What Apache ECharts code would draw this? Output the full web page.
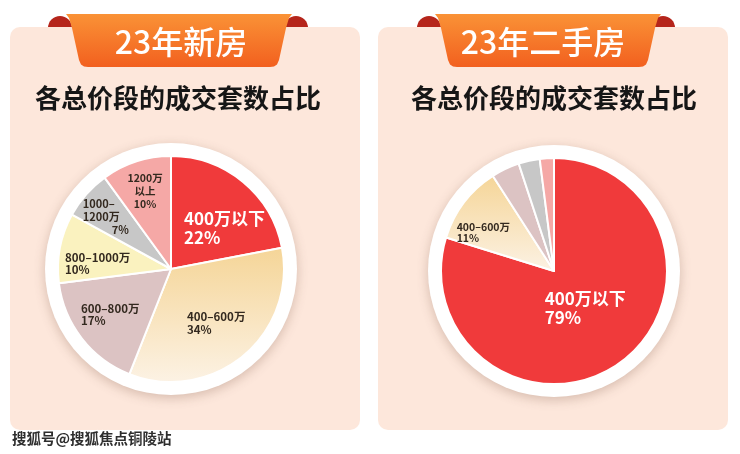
<!DOCTYPE html>
<html><head><meta charset="utf-8">
<script src="https://cdn.jsdelivr.net/npm/echarts@6/dist/echarts.min.js"></script>
<style>html,body{margin:0;padding:0;background:#fff}#c{width:740px;height:454px}</style>
</head><body><div id="c"></div>
<script>
// ---- data ----
const categories = ['400万以下', '400–600万', '600–800万', '800–1000万', '1000–1200万', '1200万以上'];
const newHomeValues = [22, 34, 17, 10, 7, 10];
const resaleValues = [79, 11, 4, 0, 3, 2];
const panelTitles = ['23年新房', '23年二手房'];
const panelSubtitle = '各总价段的成交套数占比';
const watermarkText = '搜狐号@搜狐焦点铜陵站';

// ---- styles ----
const FONT = '"Noto Sans CJK SC", "Noto Sans", sans-serif';
const sliceColors = [
  '#F03A3B',
  new echarts.graphic.LinearGradient(0, 0, 0, 1, [{offset: 0, color: '#F5D597'}, {offset: 1, color: '#FCF2E4'}]),
  '#DCC3C3',
  '#FAF2BF',
  '#C7C7C7',
  '#F5A8A6'
];
const labelBreaks = {'1000–1200万': '1000–\n1200万', '1200万以上': '1200万\n以上'};
const smallColor = '#33291f';

const newHomeLabels = {
  '400万以下': {dx: -25, dy: 4.5, align: 'left', fontSize: 17, color: '#fff', lineHeight: 19},
  '400–600万': {dx: -22, dy: 8, align: 'left', fontSize: 11.5, lineHeight: 13},
  '600–800万': {dx: -43, dy: 9.5, align: 'left', fontSize: 11.5, lineHeight: 12},
  '800–1000万': {dx: -47.5, dy: 5.6, align: 'left', fontSize: 11.5, lineHeight: 12},
  '1000–1200万': {dx: -43.6, dy: -12.6, align: 'left', fontSize: 11, lineHeight: 13, rich: true},
  '1200万以上': {dx: -7.5, dy: -21, align: 'center', fontSize: 10.5, lineHeight: 13}
};
const resaleLabels = {
  '400万以下': {dx: -44.5, dy: -10.5, align: 'left', fontSize: 17, color: '#fff', lineHeight: 19},
  '400–600万': {dx: -50, dy: -2.3, align: 'left', fontSize: 10.5, lineHeight: 11}
};

const panels = [
  {center: [171, 269], values: newHomeValues, labels: newHomeLabels},
  {center: [554, 271], values: resaleValues, labels: resaleLabels}
];

function buildPie(panel) {
  const names = [];
  const data = [];
  categories.forEach(function (name, i) {
    const v = panel.values[i];
    if (!(v > 0)) return;
    const spec = panel.labels[name];
    const item = {name: name, value: v, itemStyle: {color: sliceColors[i]}};
    if (spec) {
      const txt = labelBreaks[name] || name;
      item.label = {
        show: true,
        position: 'inside',
        fontFamily: FONT,
        fontSize: spec.fontSize,
        fontWeight: 'bold',
        color: spec.color || smallColor,
        lineHeight: spec.lineHeight,
        align: spec.align,
        formatter: spec.rich
          ? txt.split('\n').map(function (s) { return '{a|' + s + '}'; }).join('\n') + '\n{b|' + v + '%}'
          : txt + '\n' + v + '%'
      };
      if (spec.rich) {
        item.label.rich = {
          a: {fontFamily: FONT, fontSize: spec.fontSize, fontWeight: 'bold', color: smallColor, lineHeight: spec.lineHeight},
          b: {fontFamily: FONT, fontSize: spec.fontSize, fontWeight: 'bold', color: smallColor, lineHeight: spec.lineHeight, padding: [0, 0, 0, 29]}
        };
      }
    } else {
      item.label = {show: false};
    }
    names.push(name);
    data.push(item);
  });
  return [
    {
      type: 'pie', center: panel.center, radius: 126, silent: true, z: 1,
      label: {show: false}, labelLine: {show: false},
      data: [{value: 1, itemStyle: {color: '#fff', shadowBlur: 12, shadowColor: 'rgba(110,70,50,0.28)', shadowOffsetY: 3}}]
    },
    {
      type: 'pie', center: panel.center, radius: 113, startAngle: 90, clockwise: true, silent: true, z: 2,
      itemStyle: {borderColor: '#fff', borderWidth: 2},
      labelLine: {show: false},
      labelLayout: function (params) {
        const spec = panel.labels[names[params.dataIndex]];
        if (!spec) return {};
        return {dx: spec.dx, dy: spec.dy, align: spec.align, verticalAlign: 'middle'};
      },
      data: data
    }
  ];
}

function bandPoints(o) {
  const pts = [[66, 14], [292, 14], [289, 18], [286, 28], [279, 60], [277, 64.5], [274, 66.5], [270, 67],
    [88, 67], [84, 66.5], [81, 64.5], [79, 60], [72, 28], [69, 18]];
  return pts.map(function (p) { return [p[0] + o, p[1]]; });
}

const graphics = [];
[0, 369].forEach(function (o, k) {
  graphics.push({type: 'circle', shape: {cx: 60 + o, cy: 28, r: 12}, style: {fill: '#B5251B'}});
  graphics.push({type: 'circle', shape: {cx: 296 + o - (k ? 2 : 0), cy: 28, r: 12}, style: {fill: '#B5251B'}});
});
graphics.push({type: 'rect', shape: {x: 10, y: 27, width: 350, height: 403, r: 10}, style: {fill: '#FDE7DB'}});
graphics.push({type: 'rect', shape: {x: 378, y: 27, width: 350, height: 403, r: 10}, style: {fill: '#FDE7DB'}});
[0, 369].forEach(function (o, k) {
  graphics.push({
    type: 'polygon', shape: {points: bandPoints(o)},
    style: {fill: new echarts.graphic.LinearGradient(0, 0, 0, 1, [{offset: 0, color: '#FA9236'}, {offset: 1, color: '#F2601F'}])}
  });
  graphics.push({
    type: 'text',
    style: {text: panelTitles[k], x: k ? 543 : 181, y: 42, align: 'center', verticalAlign: 'middle',
      fill: '#fff', font: '500 32px ' + FONT}
  });
  graphics.push({
    type: 'text',
    style: {text: panelSubtitle, x: k ? 554 : 178, y: 98, align: 'center', verticalAlign: 'middle',
      fill: '#161616', font: 'bold 26px ' + FONT}
  });
});
graphics.push({
  type: 'text',
  style: {text: watermarkText, x: 12, y: 438, align: 'left', verticalAlign: 'middle',
    fill: '#2e2e2e', stroke: '#fff', lineWidth: 2, font: 'bold 14.5px ' + FONT}
});

const chart = echarts.init(document.getElementById('c'));
chart.setOption({
  animation: false,
  backgroundColor: '#fff',
  graphic: graphics,
  series: buildPie(panels[0]).concat(buildPie(panels[1]))
});
</script>
</body></html>
